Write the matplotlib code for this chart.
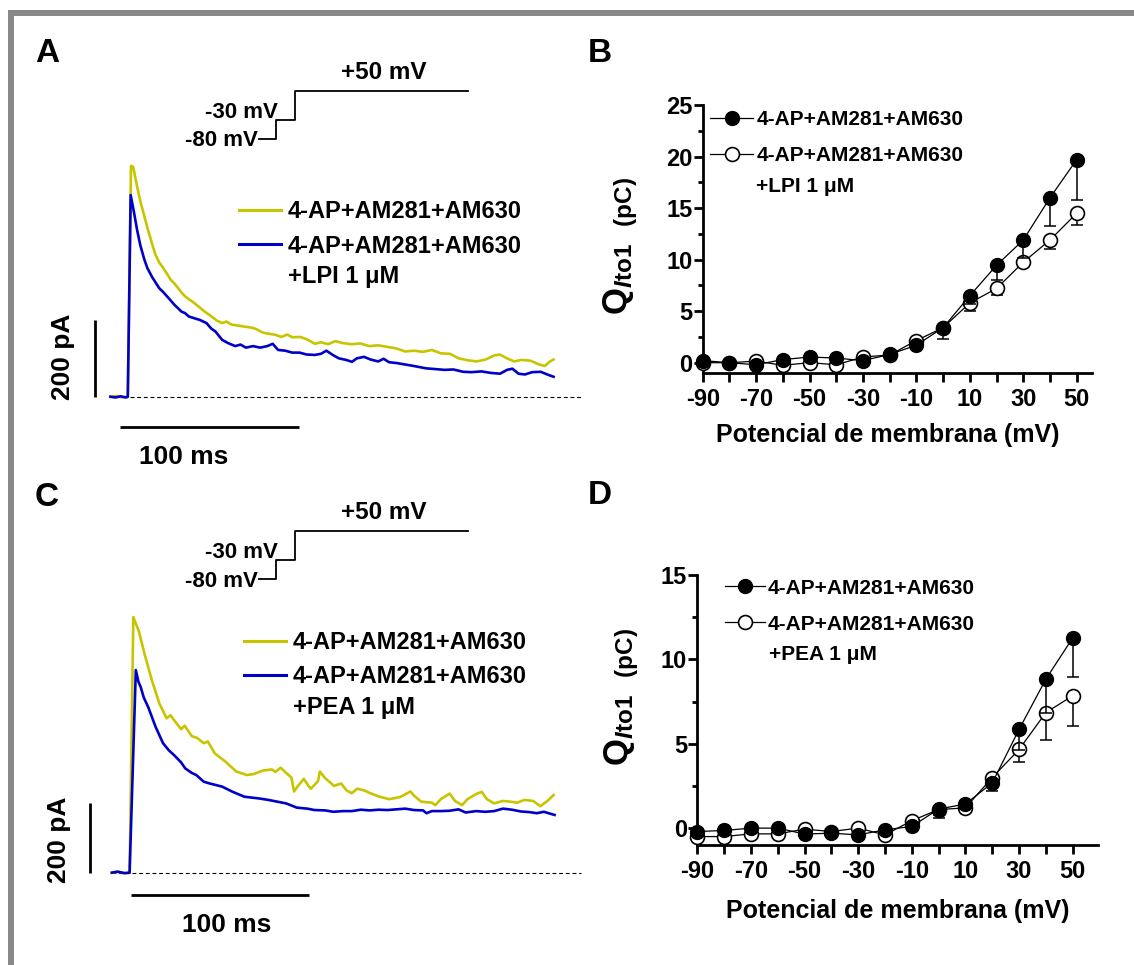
import matplotlib
matplotlib.use("Agg")
import matplotlib.pyplot as plt
from matplotlib.patches import Rectangle
from matplotlib.ticker import FixedLocator

W, H = 1134, 965

plt.rcParams.update({
    "font.family": ["Liberation Sans", "DejaVu Sans"],
    "font.weight": "bold",
    "axes.labelweight": "bold",
    "mathtext.fontset": "custom",
    "mathtext.rm": "Liberation Sans:bold",
    "mathtext.it": "Liberation Sans:bold:italic",
    "mathtext.bf": "Liberation Sans:bold",
    "axes.linewidth": 2.0,
})

# ---------------- current traces (time in ms from the +50 mV step, current in pA)
lpi_ctrl_t = [-9.7, -6, -3, -0.5, 0.0, 1.8, 3.0, 5.2, 7, 9.3, 11, 13.5, 15.5, 17.6, 19.5,
              21.7, 24, 25.9, 28, 30, 32, 34.2, 37, 40.4, 43, 46.6, 50, 52.8, 55, 58,
              61.1, 65, 69.4, 72, 75, 77.6, 82, 86, 89, 92, 96.3, 100, 104.6, 108, 112,
              116, 120, 125, 130, 135, 140, 145, 150, 155, 160, 165, 170, 175, 180, 185,
              190, 195, 200, 205, 208, 212, 216, 220, 225, 230, 233, 236, 238]
lpi_ctrl_i = [0, 2, -2, 0, 0, 602, 600, 548, 510, 470, 440, 400, 370, 350, 338,
              322, 305, 296, 284, 272, 262, 254, 245, 232, 222, 210, 198, 192, 196, 188,
              186, 183, 180, 176, 168, 165, 162, 156, 162, 155, 156, 150, 138, 142, 137,
              145, 140, 137, 139, 132, 134, 130, 126, 118, 120, 117, 122, 113, 112, 100,
              95, 92, 97, 108, 110, 100, 92, 96, 94, 84, 80, 92, 97]

lpi_drug_t = [-9.7, -7, -4, -1, 0.0, 1.6, 3.5, 5.2, 7, 9.3, 11, 13.5, 15.5, 17.6, 20,
              23.8, 26, 30, 32, 34.2, 37, 40.4, 44, 46.6, 49, 52.8, 56, 60, 63, 66,
              70, 74, 78, 81, 84, 88, 92, 96, 100, 104.6, 108, 111, 114.9, 118, 122,
              125.3, 128, 132, 135.7, 140, 143, 146, 150, 156.3, 160, 166.7, 172, 177,
              182, 187.4, 192, 197.7, 203, 208.1, 212, 215, 218.4, 222, 226, 230.8, 235, 238]
lpi_drug_i = [0, -2, 1, -2, 0, 526, 480, 435, 395, 357, 335, 313, 298, 283, 272,
              252, 240, 222, 218, 209, 205, 200, 192, 178, 170, 148, 140, 132, 136, 128,
              132, 128, 132, 138, 122, 120, 115, 115, 110, 109, 112, 120, 108, 100, 96,
              91, 100, 104, 97, 92, 99, 90, 88, 83, 80, 74, 72, 70,
              71, 65, 64, 66, 62, 60, 70, 73, 60, 58, 64, 65, 57, 52]

pea_ctrl_t = [-10, -6, -3, 0, 2.1, 3.5, 5.2, 8.3, 12.5, 16.7, 20.8, 23, 25, 29, 31, 35,
              38, 41.7, 44, 47.9, 54, 60, 66, 70, 75, 80, 82, 85, 88, 91, 92.5, 95, 98,
              101, 102, 106, 107, 110, 115, 119, 122, 125, 128, 132, 135, 140, 146, 152,
              158, 160, 164, 170, 172, 175, 180, 183, 187, 190, 195, 198, 201, 205, 210,
              214, 218, 222, 227, 231, 235, 238.5]
pea_ctrl_i = [0, 3, -2, 0, 730, 712, 690, 627, 550, 484, 441, 450, 436, 410, 420, 390,
              385, 370, 375, 341, 317, 289, 279, 282, 292, 295, 288, 300, 285, 272, 232, 250, 268,
              245, 240, 262, 289, 270, 248, 255, 235, 227, 240, 235, 228, 218, 210, 216,
              232, 220, 203, 200, 193, 210, 226, 205, 193, 210, 225, 231, 210, 198, 205,
              203, 200, 208, 205, 190, 205, 222]

pea_drug_t = [-10, -7, -3, 0, 3.5, 5.0, 6.2, 8, 10.4, 14.6, 18.8, 22, 25, 29, 31.3, 35,
              37.5, 41.7, 45, 52, 58, 64.6, 68, 73, 78, 83, 88, 94, 100, 104, 110, 114.6,
              120, 125, 130, 135, 140, 145, 150, 155, 160, 165, 167, 170, 175, 180, 185,
              189, 195, 200, 205, 210, 215, 220, 225, 229, 233, 239]
pea_drug_i = [0, 3, -1, 0, 579, 545, 531, 500, 474, 417, 370, 350, 336, 315, 298, 285,
              279, 260, 255, 246, 231, 217, 215, 212, 208, 203, 198, 186, 183, 179, 178, 174,
              176, 176, 180, 178, 180, 179, 181, 183, 179, 178, 170, 176, 176, 177, 181,
              172, 176, 174, 176, 183, 180, 175, 173, 170, 174, 165]

# voltage protocol (schematic)
protocol_levels_mv = [-80, -30, 50]
protocol_durations_ms = [9.3, 10.4, 96.7]

SCALE_PA = 200
SCALE_MS = 100

# ---------------- charge-voltage relations
voltages = [-90, -80, -70, -60, -50, -40, -30, -20, -10, 0, 10, 20, 30, 40, 50]

q_ctrl_b = [0.2, 0.0, -0.2, 0.3, 0.55, 0.45, 0.2, 0.8, 1.7, 3.4, 6.5, 9.45, 11.9, 16.0, 19.7]
q_ctrl_b_err = [0.2, 0.2, 0.2, 0.2, 0.2, 0.2, 0.2, 0.2, 0.3, 1.1, 0.8, 1.45, 1.7, 2.7, 3.9]
q_lpi = [0.0, 0.0, 0.15, -0.25, 0.0, -0.2, 0.55, 0.75, 2.15, 3.4, 5.8, 7.2, 9.75, 11.9, 14.5]
q_lpi_err = [0.2, 0.2, 0.2, 0.2, 0.2, 0.2, 0.2, 0.2, 0.3, 0.5, 0.8, 0.6, 0.5, 0.9, 1.1]

q_ctrl_d = [-0.2, -0.14, 0.0, 0.0, -0.35, -0.3, -0.4, -0.1, 0.1, 1.13, 1.43, 2.68, 5.85, 8.83, 11.27]
q_ctrl_d_err = [0.1, 0.1, 0.1, 0.1, 0.1, 0.1, 0.1, 0.1, 0.15, 0.55, 0.3, 0.5, 1.2, 2.0, 2.3]
q_pea = [-0.5, -0.5, -0.34, -0.34, -0.06, -0.2, 0.0, -0.4, 0.44, 1.1, 1.2, 3.0, 4.66, 6.85, 7.84]
q_pea_err = [0.1, 0.1, 0.1, 0.1, 0.1, 0.1, 0.1, 0.1, 0.15, 0.3, 0.2, 0.3, 0.76, 1.6, 1.8]

LABEL_CTRL = "4-AP+AM281+AM630"
LABEL_LPI = "+LPI 1 \u03bcM"
LABEL_PEA = "+PEA 1 \u03bcM"

YELLOW = "#c8c400"
BLUE = "#0000c8"

fig = plt.figure(figsize=(W / 100, H / 100), dpi=100)


def fx(px):
    return px / W


def fy(py):
    return 1 - py / H


def mapped_axes(box, px0, sx, py0, sy):
    """Invisible axes over pixel box (l, t, r, b); data 0 sits at (px0, py0),
    with sx / sy pixels per data unit."""
    l, t, r, b = box
    ax = fig.add_axes([fx(l), fy(b), (r - l) / W, (b - t) / H])
    ax.set_xlim((l - px0) / sx, (r - px0) / sx)
    ax.set_ylim((py0 - b) / sy, (py0 - t) / sy)
    ax.set_axis_off()
    ax.patch.set_visible(False)
    return ax


def trace_panel(px0, py0, sx, sy, t_ctrl, i_ctrl, t_drug, i_drug, drug_label,
                bar_t, bar_text_t, bar_text_i, hbar_i, hbar_t0, ms_text_t, ms_text_i,
                dash_end, leg_xy, extra_xy):
    ax = mapped_axes((20, py0 - 350, 600, py0 + 90), px0, sx, py0, sy)
    l1, = ax.plot(t_ctrl, i_ctrl, color=YELLOW, lw=1.9, zorder=3)
    l2, = ax.plot(t_drug, i_drug, color=BLUE, lw=1.9, zorder=4)
    ax.plot([t_ctrl[0], dash_end], [0, 0], color="black", lw=0.8,
            ls=(0, (3.5, 2.5)), zorder=2)
    # scale bars
    ax.plot([bar_t, bar_t], [0, SCALE_PA], color="black", lw=2.0, solid_capstyle="butt")
    ax.text(bar_text_t, bar_text_i, f"{SCALE_PA} pA", rotation=90, ha="center",
            va="center", fontsize=19)
    ax.plot([hbar_t0, hbar_t0 + SCALE_MS], [hbar_i, hbar_i], color="black", lw=2.0,
            solid_capstyle="butt")
    ax.text(ms_text_t, ms_text_i, f"{SCALE_MS} ms", ha="center", va="center", fontsize=19)
    leg = ax.legend([l1, l2], [LABEL_CTRL, LABEL_CTRL], loc="upper left",
                    bbox_to_anchor=(fx(leg_xy[0]), fy(leg_xy[1])),
                    bbox_transform=fig.transFigure, frameon=False, borderpad=0,
                    borderaxespad=0, fontsize=17, handlelength=1.8, handletextpad=0.28,
                    labelspacing=0.47)
    for line in leg.get_lines():
        line.set_linewidth(2.2)
    fig.text(fx(extra_xy[0]), fy(extra_xy[1]), drug_label, fontsize=17, va="center",
             ha="left")
    return ax


def protocol_panel(px0, py_m80, labels_y):
    sx, sy = 1.789, 0.3715
    ax = mapped_axes((150, py_m80 - 90, 500, py_m80 + 20), px0, sx,
                     py_m80 - 80 * sy, sy)
    t = [0.0]
    for d in protocol_durations_ms:
        t.append(t[-1] + d)
    v = protocol_levels_mv + [protocol_levels_mv[-1]]
    ax.step(t, v, where="post", color="black", lw=1.3)
    ax.text(-1.0, labels_y[0], f"{protocol_levels_mv[0]} mV", ha="right", va="center",
            fontsize=16)
    ax.text(10.3, labels_y[1], f"{protocol_levels_mv[1]} mV", ha="right", va="center",
            fontsize=16)
    ax.text(69.3, labels_y[2], f"+{protocol_levels_mv[2]} mV", ha="center", va="center",
            fontsize=17.5)


def qv_panel(box_px, px_per_140mv, ylim, yticks, ctrl, ctrl_err, drug, drug_err,
             drug_label, leg_xy, extra_xy, handlelength, ylabel_xy, xlabel_xy):
    l, t, r, b = box_px
    ax = fig.add_axes([fx(l), fy(b), (r - l) / W, (b - t) / H])
    ax.set_xlim(-90, -90 + (r - l) * 140 / px_per_140mv)
    ax.set_ylim(*ylim)
    zeros = [0] * len(voltages)
    ax.errorbar(voltages, drug, yerr=[drug_err, zeros], fmt="none", ecolor="black",
                elinewidth=1.1, capsize=4.3, capthick=1.1, zorder=3, clip_on=False)
    h2, = ax.plot(voltages, drug, color="black", lw=0.9, marker="o", ms=10,
                  mfc="white", mec="black", mew=1.2, zorder=4, clip_on=False)
    ax.errorbar(voltages, ctrl, yerr=[ctrl_err, zeros], fmt="none", ecolor="black",
                elinewidth=1.1, capsize=4.3, capthick=1.1, zorder=5, clip_on=False)
    h1, = ax.plot(voltages, ctrl, color="black", lw=0.9, marker="o", ms=10,
                  mfc="black", mec="black", zorder=6, clip_on=False)
    for s in ("top", "right"):
        ax.spines[s].set_visible(False)
    ax.xaxis.set_major_locator(FixedLocator(voltages[::2]))
    ax.xaxis.set_minor_locator(FixedLocator(voltages[1::2]))
    ax.set_xticklabels([str(v) for v in voltages[::2]])
    ax.set_yticks(yticks)
    ax.set_yticklabels([str(v) for v in yticks])
    ax.yaxis.set_minor_locator(FixedLocator([y + 2.5 for y in yticks[:-1]]))
    ax.tick_params(axis="x", which="both", length=6.5, width=2.0, pad=4, labelsize=17)
    ax.tick_params(axis="y", which="major", length=6.5, width=2.0, pad=1, labelsize=17)
    ax.tick_params(axis="y", which="minor", length=3.5, width=2.0)
    ax.set_ylabel(r"$\mathrm{Q}_{\mathit{I}\mathrm{to1}\;\;\;\mathrm{(pC)}}$", fontsize=25)
    ax.yaxis.set_label_coords(*ylabel_xy)
    ax.set_xlabel("Potencial de membrana (mV)", fontsize=18, va="center")
    ax.xaxis.set_label_coords(*xlabel_xy)
    ax.legend([h1, h2], [LABEL_CTRL, LABEL_CTRL], loc="upper left",
              bbox_to_anchor=(fx(leg_xy[0]), fy(leg_xy[1])), bbox_transform=fig.transFigure,
              frameon=False, borderpad=0, borderaxespad=0, fontsize=15,
              handlelength=handlelength, handletextpad=0.15, labelspacing=0.82,
              numpoints=1)
    fig.text(fx(extra_xy[0]), fy(extra_xy[1]), drug_label, fontsize=15, va="center",
             ha="left")
    return ax


# ---------------- panel A
trace_panel(127.8, 396.7, 1.789, 0.3833, lpi_ctrl_t, lpi_ctrl_i, lpi_drug_t, lpi_drug_i,
            LABEL_LPI, bar_t=-18.2, bar_text_t=-36.2, bar_text_i=103, hbar_i=-78.3,
            hbar_t0=-4.1, ms_text_t=31.0, ms_text_i=-156.5, dash_end=254,
            leg_xy=(238.9, 200.5), extra_xy=(288.1, 276.7))
protocol_panel(259.3, 139.0, (-84.5, -9.2, 99.5))

# ---------------- panel C
trace_panel(129.6, 872.7, 1.778, 0.35, pea_ctrl_t, pea_ctrl_i, pea_drug_t, pea_drug_i,
            LABEL_PEA, bar_t=-22.3, bar_text_t=-39.6, bar_text_i=95, hbar_i=-63.7,
            hbar_t0=1.0, ms_text_t=54.7, ms_text_i=-149.4, dash_end=254,
            leg_xy=(243.7, 631.0), extra_xy=(292.6, 707.7))
protocol_panel(259.3, 579.0, (-85.4, -9.2, 99.5))

# ---------------- panels B and D
qv_panel((702.7, 105, 1092, 373), 374.0, (-1, 25), [0, 5, 10, 15, 20, 25],
         q_ctrl_b, q_ctrl_b_err, q_lpi, q_lpi_err, LABEL_LPI,
         leg_xy=(710, 110.2), extra_xy=(755.7, 186.7), handlelength=2.07,
         ylabel_xy=(-0.161, 0.474), xlabel_xy=(0.4747, -0.231))
qv_panel((697.3, 575, 1098, 845), 375.4, (-1, 15), [0, 5, 10, 15],
         q_ctrl_d, q_ctrl_d_err, q_pea, q_pea_err, LABEL_PEA,
         leg_xy=(725, 578.5), extra_xy=(769.3, 655), handlelength=1.92,
         ylabel_xy=(-0.1405, 0.549), xlabel_xy=(0.4996, -0.244))

# panel letters
for letter, (px, py) in {"A": (47, 53), "B": (600, 53), "C": (47, 497), "D": (600, 495)}.items():
    fig.text(fx(px), fy(py), letter, fontsize=24, ha="center", va="center")

# grey frame on the left and top edges
fig.add_artist(Rectangle((fx(8), 0), 6 / W, fy(10), transform=fig.transFigure,
                         color="#888888", lw=0))
fig.add_artist(Rectangle((fx(8), fy(16)), 1 - fx(8), 6 / H, transform=fig.transFigure,
                         color="#888888", lw=0))

fig.savefig("out.png", dpi=100)
